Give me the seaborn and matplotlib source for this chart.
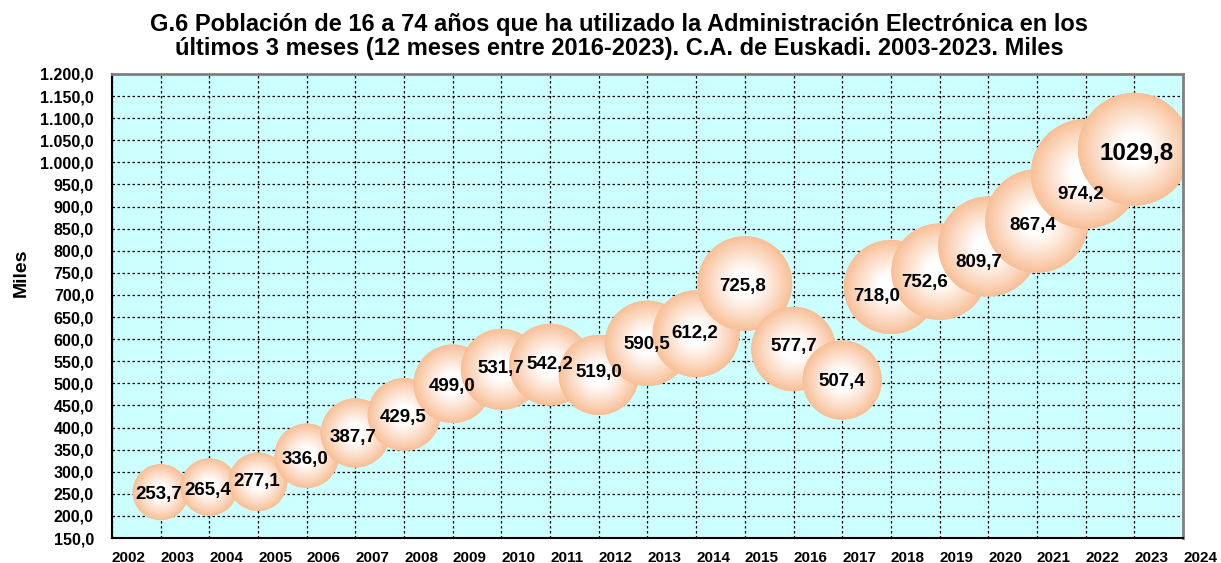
"""
bubble chart: e-administration users, Euskadi 2003-2023
"""
import numpy as np
import matplotlib
matplotlib.use("Agg")
import matplotlib.pyplot as plt
import seaborn as sns
from matplotlib.colors import to_rgb

years = list(range(2003, 2024))
values = [253.7, 265.4, 277.1, 336.0, 387.7, 429.5, 499.0, 531.7, 542.2, 519.0,
          590.5, 612.2, 725.8, 577.7, 507.4, 718.0, 752.6, 809.7, 867.4, 974.2,
          1029.8]
tick_years = list(range(2002, 2025))
y_ticks = list(range(150, 1201, 50))

title = ("G.6 Población de 16 a 74 años que ha utilizado la Administración Electrónica en los\n"
         "últimos 3 meses (12 meses entre 2016-2023). C.A. de Euskadi. 2003-2023. Miles")

# label nudges in pixels (dx right, dy down) to mimic the original placement
label_nudge = [(-2, 2), (-2, 3), (-1, 0), (-2, 4), (-2, 5), (-1, 3), (-1, 3),
               (-1, -1), (0, 0), (0, -2), (-1, 1), (-1, 0), (-2, 3), (0, -2),
               (0, 1), (-14, 10), (-15, 11), (-9, 16), (-4, 5), (-5, 21), (2, 4)]

sns.set_style("white")
plt.rcParams['font.family'] = ['Liberation Sans', 'DejaVu Sans']
plt.rcParams['font.weight'] = 'bold'
plt.rcParams['text.color'] = 'black'
plt.rcParams['xtick.color'] = 'black'
plt.rcParams['ytick.color'] = 'black'

peach = np.array(to_rgb("#F8C098"))
white = np.array([1.0, 1.0, 1.0])

fig, ax = plt.subplots(figsize=(12.21, 5.63), dpi=100)
ax.set_position([0.0917, 0.0444, 0.8772, 0.8242])
ax.set_facecolor("#CCFFFF")

fracs = np.linspace(1, 0.03, 40)
t = np.clip((fracs - 0.25) / 0.75, 0, 1) ** 1.1
layer_colors = [white + (peach - white) * k for k in t]

for i, (yr, v) in enumerate(zip(years, values)):
    s = 6.4 * v
    sns.scatterplot(x=[yr], y=[v], s=s, color=peach, edgecolor="none",
                    legend=False, ax=ax, zorder=3)
    ax.scatter([yr] * len(fracs), [v] * len(fracs), s=s * fracs ** 2,
               c=layer_colors, edgecolors="none", zorder=3)

for i, (yr, v) in enumerate(zip(years, values)):
    dx, dy = label_nudge[i]
    big = (i == len(values) - 1)
    ax.annotate(f"{v:.1f}".replace(".", ","), (yr, v),
                xytext=(dx * 0.72, -dy * 0.72), textcoords="offset points",
                ha="center", va="center", fontsize=17.5 if big else 13.5,
                fontweight="bold", color="black", zorder=10)

ax.set_xlim(2002, 2024)
ax.set_ylim(150, 1200)
ax.set_xticks(tick_years)
ax.set_xticklabels([str(y) for y in tick_years], ha="left")
ax.set_yticks(y_ticks)
ax.set_yticklabels([f"{y:,.1f}".replace(",", "X").replace(".", ",").replace("X", ".")
                    for y in y_ticks])
ax.tick_params(axis="y", length=5, width=1, color="black", pad=8, labelsize=11.5)
ax.tick_params(axis="x", length=0, pad=9, labelsize=11)
for lab in ax.get_xticklabels() + ax.get_yticklabels():
    lab.set_fontweight("bold")
    lab.set_color("black")

ax.set_axisbelow(True)
ax.grid(True, color="black", linestyle=(0, (2, 2)), linewidth=0.9)

ax.spines["left"].set_color("black")
ax.spines["left"].set_linewidth(1.5)
ax.spines["bottom"].set_color("black")
ax.spines["bottom"].set_linewidth(1.5)
ax.spines["top"].set_color("#808080")
ax.spines["top"].set_linewidth(2)
ax.spines["right"].set_color("#808080")
ax.spines["right"].set_linewidth(2)
for sp in ax.spines.values():
    sp.set_zorder(12)

ax.set_xlabel("")
ax.set_ylabel("")
fig.text(0.0175, 0.515, "Miles", rotation=90, ha="center", va="center",
         fontsize=14, fontweight="bold", color="black")
fig.text(0.507, 0.977, title, ha="center", va="top", fontsize=17,
         fontweight="bold", linespacing=1.05, color="black")

plt.savefig("out.png", dpi=100)
